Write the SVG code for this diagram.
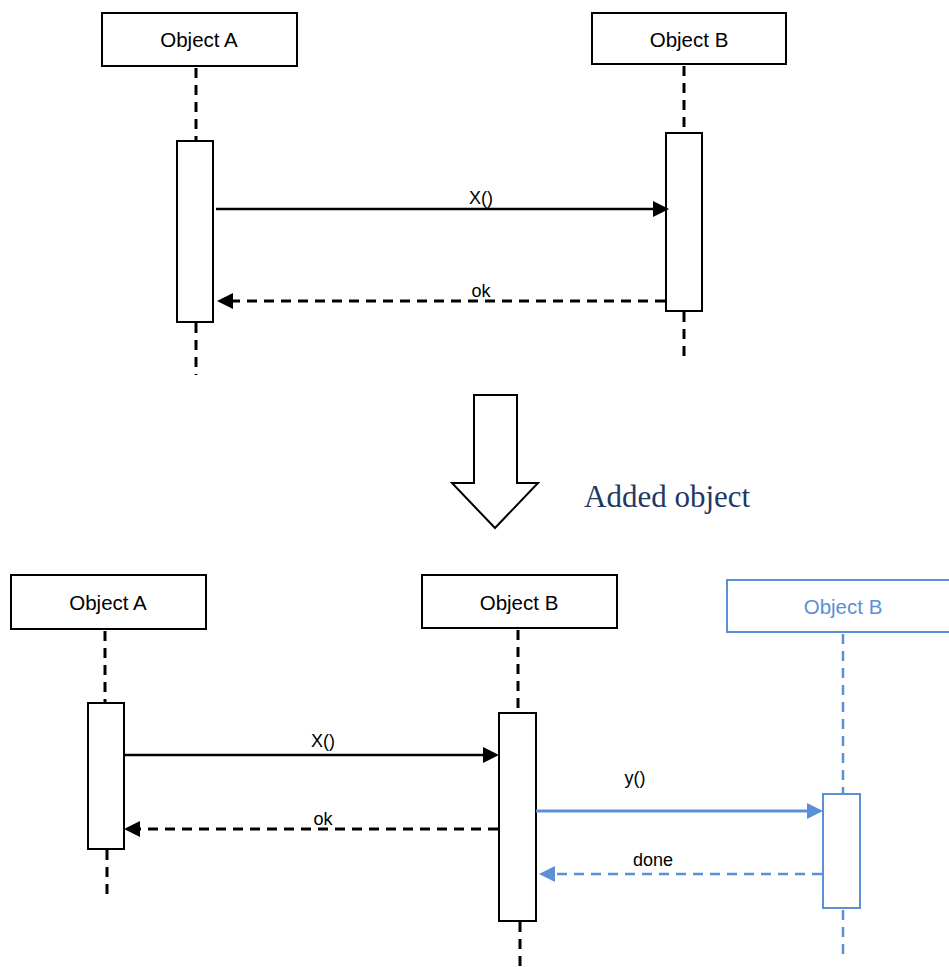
<svg xmlns="http://www.w3.org/2000/svg" width="949" height="967" viewBox="0 0 949 967">
<style>
.box{fill:#fff;stroke:#000;stroke-width:2}
.bbox{fill:#fff;stroke:#5B8FD6;stroke-width:2}
.life{stroke:#000;stroke-width:3;stroke-dasharray:10 7;fill:none}
.blife{stroke:#5B8FD6;stroke-width:2.5;stroke-dasharray:10 7;fill:none}
.t{font-family:"Liberation Sans",Arial,sans-serif;font-size:20.5px;fill:#000;text-anchor:middle}
.bt{font-family:"Liberation Sans",Arial,sans-serif;font-size:20.5px;fill:#5B8FD6;text-anchor:middle}
.lbl{font-family:"Liberation Sans",Arial,sans-serif;font-size:18px;fill:#000;text-anchor:middle}
.msg{stroke:#000;stroke-width:2.5;fill:none}
.ret{stroke:#000;stroke-width:3;stroke-dasharray:10 7;fill:none}
.bmsg{stroke:#5B8FD6;stroke-width:3;fill:none}
.bret{stroke:#5B8FD6;stroke-width:2.5;stroke-dasharray:10 7;fill:none}
</style>

<g id="top-objA">
<rect class="box" x="102" y="13" width="195" height="53"/>
<text class="t" x="199" y="47">Object A</text>
<line class="life" x1="196" y1="68" x2="196" y2="140"/>
<rect class="box" x="177" y="141" width="36" height="181"/>
<line class="life" x1="196" y1="323" x2="196" y2="375"/>
</g>

<g id="top-objB">
<rect class="box" x="592" y="13" width="194" height="51"/>
<text class="t" x="689" y="47">Object B</text>
<line class="life" x1="684" y1="66" x2="684" y2="132"/>
<rect class="box" x="666" y="133" width="36" height="178"/>
<line class="life" x1="684" y1="312" x2="684" y2="360"/>
</g>

<g id="arrow-down">
<path d="M474,395 H517 V483 H538 L495,528 L452,483 H474 Z" fill="#fff" stroke="#000" stroke-width="2"/>
<text x="584" y="507" font-family="'Liberation Serif','Times New Roman',serif" font-size="31" fill="#1F3864">Added object</text>
</g>

<g id="bot-objA">
<rect class="box" x="11" y="575" width="195" height="54"/>
<text class="t" x="108" y="610">Object A</text>
<line class="life" x1="105" y1="631" x2="105" y2="702"/>
<rect class="box" x="88" y="703" width="36" height="146"/>
<line class="life" x1="107" y1="850" x2="107" y2="895"/>
</g>

<g id="bot-objB">
<rect class="box" x="422" y="575" width="195" height="53"/>
<text class="t" x="519" y="610">Object B</text>
<line class="life" x1="518" y1="630" x2="518" y2="712"/>
<rect class="box" x="499" y="713" width="37" height="208"/>
<line class="life" x1="520" y1="922" x2="520" y2="967"/>
</g>

<g id="bot-objB2">
<rect class="bbox" x="727" y="580" width="224" height="52"/>
<text class="bt" x="843" y="614">Object B</text>
<line class="blife" x1="843" y1="634" x2="843" y2="793"/>
<rect class="bbox" x="823" y="794" width="37" height="114"/>
<line class="blife" x1="843" y1="910" x2="843" y2="960"/>
</g>

<g id="connectors">
<line class="msg" x1="216" y1="209" x2="656" y2="209"/>
<path d="M669,209 L653,201 L653,217 Z"/>
<text class="lbl" x="481" y="204">X()</text>
<line class="ret" x1="665" y1="301" x2="230" y2="301"/>
<path d="M217,301 L233,293 L233,309 Z"/>
<text class="lbl" x="481" y="297">ok</text>

<line class="msg" x1="124" y1="755" x2="486" y2="755"/>
<path d="M499,755 L483,747 L483,763 Z"/>
<text class="lbl" x="323" y="747">X()</text>
<line class="ret" x1="498" y1="829" x2="137" y2="829"/>
<path d="M124,829 L140,821 L140,837 Z"/>
<text class="lbl" x="323" y="825">ok</text>

<path d="M536,811 H812" class="bmsg"/>
<path d="M823,811 L807,803 L807,819 Z" fill="#5B8FD6"/>
<text class="lbl" x="635" y="784">y()</text>
<path d="M822,874 H550" class="bret"/>
<path d="M539,874 L555,866 L555,882 Z" fill="#5B8FD6"/>
<text class="lbl" x="653" y="866">done</text>
</g>
</svg>
